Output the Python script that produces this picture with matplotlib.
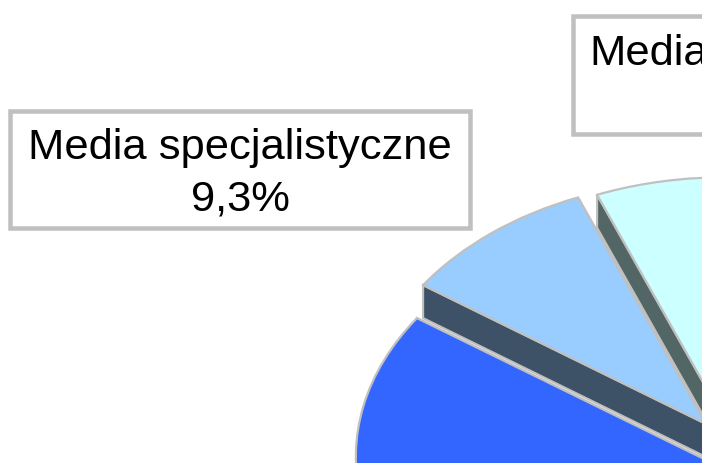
import numpy as np
import matplotlib
matplotlib.use("Agg")
import matplotlib.pyplot as plt
from matplotlib.patches import Polygon, Rectangle

# --- data (shares in %, off-canvas slices estimated from visible geometry) ---
categories = ["Media", "Inne", "Media ogólne", "Media specjalistyczne"]
values = [20.0, 20.5, 50.2, 9.3]
explode = [0.0632, 0.05, 0.1029, 0.0644]
top_colors = ["#ccffff", "#ffffcc", "#3366ff", "#99ccff"]
side_colors = ["#526666", "#666652", "#1f3d99", "#3d5266"]
draw_order = [1, 0, 3, 2]

label_main = "Media specjalistyczne\n9,3%"
label_cut = "Media"

# --- layout (pixels) ---
W, H, VISIBLE_W = 706, 463, 702
CX, CY, RX, RY = 719.8, 436.2, 344, 244
DEPTH = 33
EDGE = "#c0c0c0"
px = 72 / 100

fig = plt.figure(figsize=(W / 100, H / 100), dpi=100, facecolor="white")
rect = [0, 0, VISIBLE_W / W, 1]
ax = fig.add_axes(rect)
wedges, _ = ax.pie(values, explode=explode, colors=top_colors, startangle=111.85,
                   counterclock=False, radius=1, center=(0, 0), frame=False,
                   wedgeprops=dict(edgecolor=EDGE, linewidth=2.2 * px))
ax.set_aspect("auto")
ax.set_xlim(-CX / RX, (VISIBLE_W - CX) / RX)
ax.set_ylim((CY - H) / RY, CY / RY)
ax.axis("off")

d = DEPTH / RY
for rank, i in enumerate(draw_order):
    w = wedges[i]
    w.set_zorder(rank * 2 + 2)
    w.set_clip_on(True)
    w.set_clip_path(ax.patch)
    a = np.array(w.center)
    for th in (w.theta1, w.theta2):
        c = a + w.r * np.array([np.cos(np.radians(th)), np.sin(np.radians(th))])
        ax.add_patch(Polygon([a, c, c - [0, d], a - [0, d]], closed=True,
                             facecolor=side_colors[i], edgecolor=EDGE,
                             linewidth=2.2 * px, zorder=rank * 2 + 1))

ov = fig.add_axes(rect, facecolor="none")
ov.set_xlim(0, VISIBLE_W)
ov.set_ylim(H, 0)
ov.axis("off")
for (x0, y0, x1, y1) in [(9.5, 111, 470, 228), (572.5, 16, 760, 134)]:
    ov.add_patch(Rectangle((x0, y0), x1 - x0, y1 - y0, facecolor="white",
                           edgecolor=EDGE, linewidth=4.5 * px, zorder=20))
font = ["Liberation Sans", "DejaVu Sans"]
FS = 43.5 * px
ov.text(240, 174, label_main, ha="center", va="center", family=font, fontsize=FS,
        color="black", linespacing=1.37, zorder=21)
ov.text(589.5, 65, label_cut, ha="left", va="baseline", family=font, fontsize=FS,
        color="black", zorder=21, clip_on=True)

fig.savefig("out.png", dpi=100, facecolor="white")
